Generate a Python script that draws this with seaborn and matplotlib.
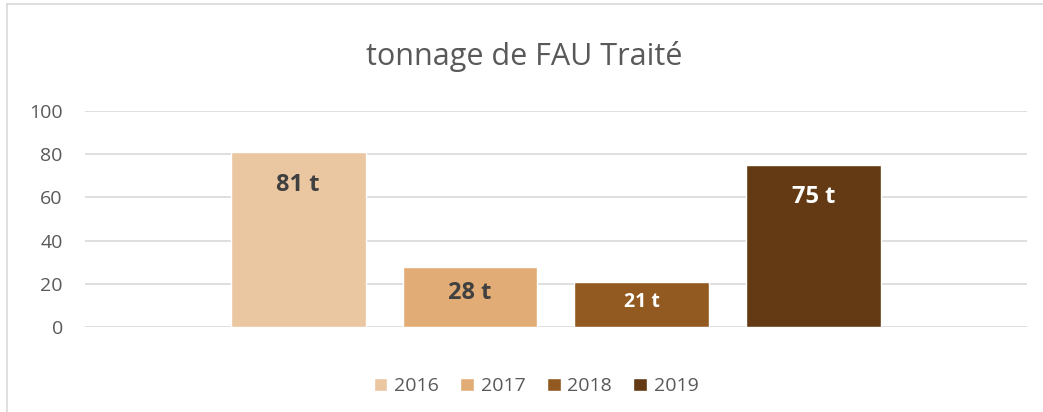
import pandas as pd
import matplotlib.pyplot as plt
import seaborn as sns
from matplotlib.lines import Line2D

# Données
annees = ['2016', '2017', '2018', '2019']
tonnage = [81, 28, 21, 75]
etiquettes = ['81 t', '28 t', '21 t', '75 t']
couleurs = ['#EBC7A1', '#E2AC76', '#925A20', '#633A13']
couleurs_texte = ['#404040', '#404040', '#FFFFFF', '#FFFFFF']
tailles_texte = [17, 17, 14, 17]
decalages = [-24, -19, -14.5, -23]

df = pd.DataFrame({'groupe': ['FAU'] * 4, 'Année': annees, 'Tonnage': tonnage})

sns.set_style('white')
plt.rcParams['font.family'] = ['Open Sans', 'DejaVu Sans']

fig = plt.figure(figsize=(10.43, 4.12), dpi=100)
ax = fig.add_axes([0.0815, 0.2063, 0.903, 0.5243])

sns.barplot(data=df, x='groupe', y='Tonnage', hue='Année', palette=couleurs,
            width=0.73, gap=0.215, saturation=1, ax=ax, legend=True)

ax.set_ylim(0, 100)
ax.set_xlim(-0.5, 0.5)
ax.set_yticks([0, 20, 40, 60, 80, 100])
ax.yaxis.grid(True, color='#D9D9D9', linewidth=1.2)
ax.set_axisbelow(True)
ax.tick_params(axis='y', labelsize=14, colors='#595959', length=0, pad=16)
ax.set_xticks([])
ax.set_xlabel('')
ax.set_ylabel('')
for s in ax.spines.values():
    s.set_visible(False)

# étiquettes dans les barres
for i, cont in enumerate(ax.containers):
    for p in cont.patches:
        ax.annotate(etiquettes[i], (p.get_x() + p.get_width() / 2, p.get_height()),
                    xytext=(0, decalages[i]), textcoords='offset points',
                    ha='center', va='center', color=couleurs_texte[i],
                    fontsize=tailles_texte[i], fontweight='bold')

fig.text(0.503, 0.863, 'tonnage de FAU Traité', ha='center', va='center',
         fontsize=22, color='#595959')

leg = ax.legend(loc='center', bbox_to_anchor=(0.479, -0.275), ncol=4, frameon=False,
                fontsize=14, handlelength=0.7, handleheight=0.7, handletextpad=0.35,
                columnspacing=1.1)
for t in leg.get_texts():
    t.set_color('#595959')

# bordure du graphique
fig.add_artist(Line2D([7 / 1043, 7 / 1043], [0, 1 - 4 / 412], color='#D9D9D9', lw=1.2))
fig.add_artist(Line2D([7 / 1043, 1], [1 - 4 / 412, 1 - 4 / 412], color='#D9D9D9', lw=1.2))

fig.savefig('out.png', dpi=100, facecolor='white')
